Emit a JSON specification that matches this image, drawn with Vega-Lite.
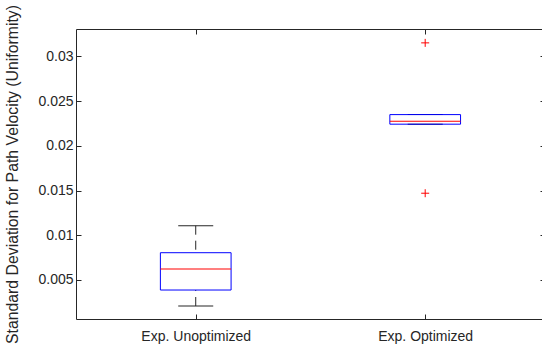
{
  "$schema": "https://vega.github.io/schema/vega-lite/v6.json",
  "width": 466,
  "height": 290,
  "autosize": {"type": "none"},
  "padding": {"left": 76, "top": 29, "right": 0, "bottom": 28},
  "background": "white",
  "config": {
    "view": {"stroke": null},
    "axis": {
      "grid": false,
      "domainColor": "#262626",
      "domainWidth": 1,
      "tickColor": "#262626",
      "tickWidth": 1,
      "labelFont": "Liberation Sans",
      "labelFontSize": 14,
      "labelColor": "#262626",
      "titleFont": "Liberation Sans",
      "titleFontSize": 15.8,
      "titleFontWeight": "normal",
      "titleColor": "#262626"
    }
  },
  "datasets": {
    "stats": [
      {"k": 1, "group": "Exp. Unoptimized", "lower": 0.00209, "q1": 0.00388, "median": 0.00623, "q3": 0.00805, "upper": 0.01107},
      {"k": 2, "group": "Exp. Optimized", "lower": 0.02242, "q1": 0.02242, "median": 0.02275, "q3": 0.02349, "upper": 0.02349}
    ],
    "outliers": [
      {"k": 2, "group": "Exp. Optimized", "value": 0.03151},
      {"k": 2, "group": "Exp. Optimized", "value": 0.0147}
    ]
  },
  "resolve": {"axis": {"x": "independent", "y": "independent"}},
  "layer": [
    {
      "data": {"name": "stats"},
      "mark": {"type": "rule", "color": "#262626", "strokeWidth": 1, "strokeDash": [9, 6]},
      "encoding": {
        "x": {
          "field": "k", "type": "quantitative",
          "scale": {"domain": [0.5, 2.4872], "nice": false, "zero": false},
          "axis": {
            "orient": "bottom", "values": [1, 2], "tickSize": -5, "labelPadding": 15,
            "labelExpr": "datum.value == 1 ? 'Exp. Unoptimized' : 'Exp. Optimized'",
            "title": null
          }
        },
        "y": {
          "field": "upper", "type": "quantitative",
          "scale": {"domain": [0.00064, 0.03306], "nice": false, "zero": false},
          "axis": {
            "orient": "left", "values": [0.005, 0.01, 0.015, 0.02, 0.025, 0.03],
            "format": "~g", "tickSize": -5, "labelPadding": 8,
            "title": "Standard Deviation for Path Velocity (Uniformity)", "titlePadding": 17
          }
        },
        "y2": {"field": "q3"}
      }
    },
    {
      "data": {"name": "stats"},
      "mark": {"type": "rule", "color": "#262626", "strokeWidth": 1, "strokeDash": [9, 6]},
      "encoding": {
        "x": {"field": "k", "type": "quantitative", "axis": null},
        "y": {"field": "lower", "type": "quantitative", "axis": null},
        "y2": {"field": "q1"}
      }
    },
    {
      "data": {"name": "stats"},
      "mark": {"type": "tick", "orient": "horizontal", "size": 35, "thickness": 1, "color": "#262626", "opacity": 1},
      "encoding": {
        "x": {"field": "k", "type": "quantitative", "axis": null},
        "y": {"field": "upper", "type": "quantitative", "axis": null}
      }
    },
    {
      "data": {"name": "stats"},
      "mark": {"type": "tick", "orient": "horizontal", "size": 35, "thickness": 1, "color": "#262626", "opacity": 1},
      "encoding": {
        "x": {"field": "k", "type": "quantitative", "axis": null},
        "y": {"field": "lower", "type": "quantitative", "axis": null}
      }
    },
    {
      "data": {"name": "stats"},
      "mark": {"type": "bar", "width": 70.7, "fillOpacity": 0, "stroke": "#0000ff", "strokeWidth": 1},
      "encoding": {
        "x": {"field": "k", "type": "quantitative", "axis": null},
        "y": {"field": "q1", "type": "quantitative", "axis": null},
        "y2": {"field": "q3"}
      }
    },
    {
      "data": {"name": "stats"},
      "mark": {"type": "tick", "orient": "horizontal", "size": 70.7, "thickness": 1, "color": "#ff0000", "opacity": 1},
      "encoding": {
        "x": {"field": "k", "type": "quantitative", "axis": null},
        "y": {"field": "median", "type": "quantitative", "axis": null}
      }
    },
    {
      "data": {"name": "outliers"},
      "mark": {"type": "point", "shape": "M-1,0H1M0,-1V1", "size": 64, "filled": false, "stroke": "#ff0000", "strokeWidth": 1, "opacity": 1},
      "encoding": {
        "x": {
          "field": "k", "type": "quantitative",
          "axis": {"orient": "top", "values": [1, 2], "tickSize": -5, "labels": false, "title": null}
        },
        "y": {
          "field": "value", "type": "quantitative",
          "axis": {"orient": "right", "values": [0.005, 0.01, 0.015, 0.02, 0.025, 0.03], "tickSize": -2, "domain": false, "labels": false, "title": null}
        }
      }
    }
  ]
}
